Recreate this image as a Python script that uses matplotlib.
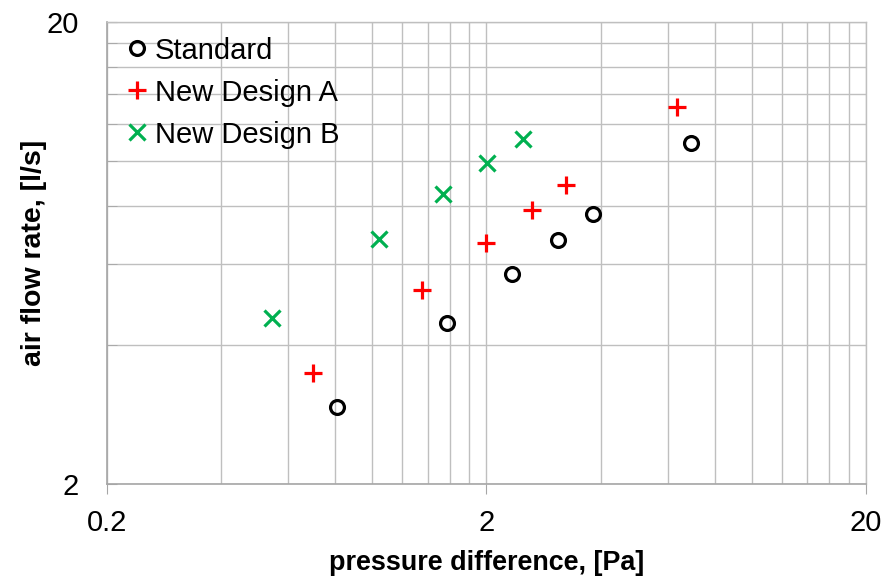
import matplotlib
matplotlib.use("Agg")
import matplotlib.pyplot as plt
from matplotlib.ticker import FixedLocator, FixedFormatter, NullFormatter

plt.rcParams['font.family'] = ['Liberation Sans', 'DejaVu Sans']

# Measured air flow vs pressure difference
std_dp = [0.806, 1.576, 2.33, 3.08, 3.82, 6.90]
std_q = [2.93, 4.47, 5.69, 6.74, 7.68, 10.93]

a_dp = [0.699, 1.350, 1.99, 2.63, 3.25, 6.37]
a_q = [3.48, 5.26, 6.65, 7.84, 8.89, 13.07]

b_dp = [0.544, 1.044, 1.533, 2.006, 2.50]
b_q = [4.58, 6.78, 8.47, 9.90, 11.15]

x_ticks = [0.2, 2, 20]
x_labels = ["0.2", "2", "20"]
y_ticks = [2, 20]
y_labels = ["2", "20"]


def linear_minors(majors):
    """Minor gridlines at integer multiples of each decade's lower bound."""
    out = []
    for lo in majors[:-1]:
        out += [lo * k for k in range(2, 10)]
    return out


fig = plt.figure(figsize=(8.9, 5.78), dpi=100)
ax = fig.add_axes([0.1202, 0.1626, 0.8528, 0.7994])

ax.set_xscale('log')
ax.set_yscale('log')
ax.set_xlim(x_ticks[0], x_ticks[-1])
ax.set_ylim(y_ticks[0], y_ticks[-1])

grid_c = '#BFBFBF'
ax.xaxis.set_major_locator(FixedLocator(x_ticks))
ax.xaxis.set_major_formatter(FixedFormatter(x_labels))
ax.yaxis.set_major_locator(FixedLocator(y_ticks))
ax.yaxis.set_major_formatter(FixedFormatter(y_labels))
ax.xaxis.set_minor_locator(FixedLocator(linear_minors(x_ticks)))
ax.yaxis.set_minor_locator(FixedLocator(linear_minors(y_ticks)))
ax.xaxis.set_minor_formatter(NullFormatter())
ax.yaxis.set_minor_formatter(NullFormatter())

ax.grid(True, which='both', color=grid_c, linewidth=1.0)
ax.set_axisbelow(True)

ax.tick_params(axis='x', which='major', direction='out', length=7, color='#A6A6A6',
               labelsize=21, pad=11)
ax.tick_params(axis='x', which='minor', length=0)
ax.tick_params(axis='y', which='both', direction='in', length=7, color='#A6A6A6',
               labelsize=21, pad=20)

for side in ['left', 'bottom']:
    ax.spines[side].set_color('#A6A6A6')
    ax.spines[side].set_linewidth(1.2)
for side in ['top', 'right']:
    ax.spines[side].set_color(grid_c)
    ax.spines[side].set_linewidth(1.0)

ax.plot(std_dp, std_q, linestyle='none', marker='o', markersize=10,
        markerfacecolor='none', markeredgecolor='black', markeredgewidth=2.3,
        label='Standard')
ax.plot(a_dp, a_q, linestyle='none', marker='+', markersize=13,
        markeredgecolor='#FF0000', markeredgewidth=2.3, label='New Design A')
ax.plot(b_dp, b_q, linestyle='none', marker='x', markersize=11,
        markeredgecolor='#00B050', markeredgewidth=2.3, label='New Design B')

ax.set_xlabel('pressure difference, [Pa]', fontsize=19.4, fontweight='bold', labelpad=9)
ax.set_ylabel('air flow rate, [l/s]', fontsize=20.5, fontweight='bold', labelpad=0)

leg = ax.legend(loc='upper left', bbox_to_anchor=(0.0, 1.0), frameon=False,
                fontsize=21, handlelength=1.05, handletextpad=0.08,
                labelspacing=0.48, borderaxespad=0.1)

fig.savefig('out.png', dpi=100, facecolor='white')
